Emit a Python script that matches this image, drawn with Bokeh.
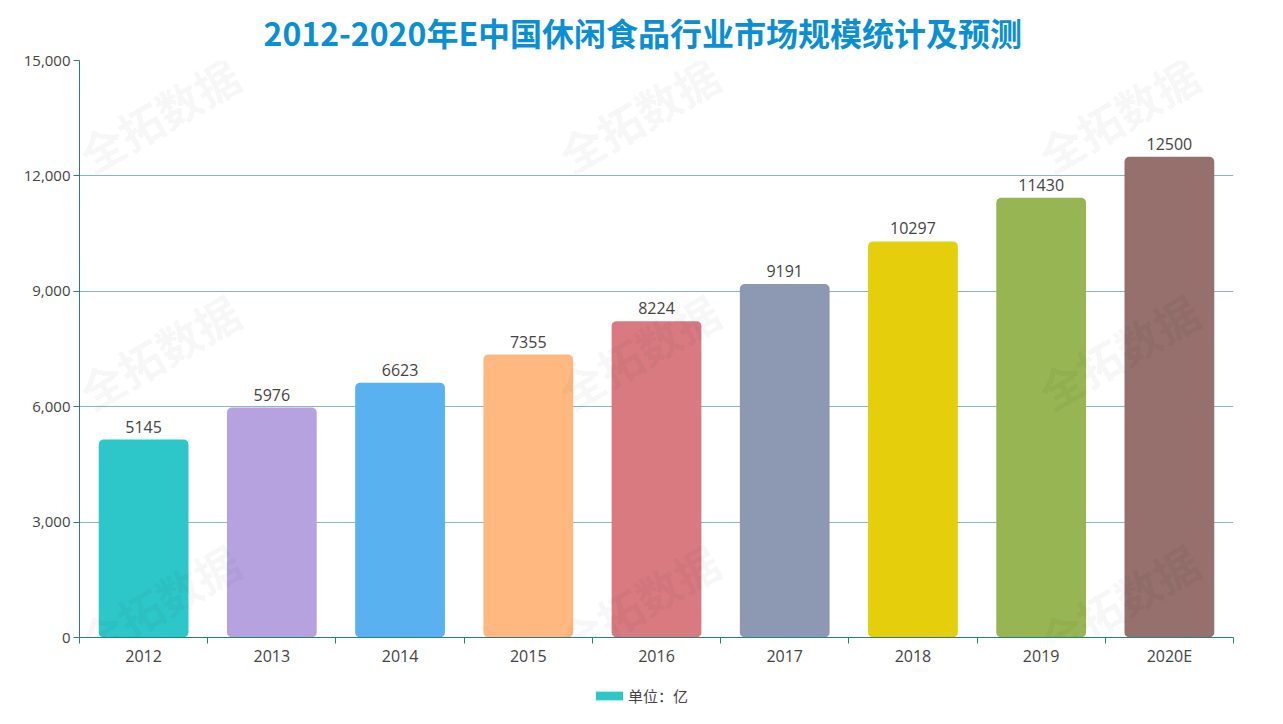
from bokeh.plotting import figure
from bokeh.layouts import column
from bokeh.models import (ColumnDataSource, Range1d, FixedTicker, NumeralTickFormatter,
                          LabelSet, Label, Legend, LegendItem)
from bokeh.core.properties import value
from bokeh.embed import file_html
from bokeh.resources import INLINE

# ---- data ----
years = ["2012", "2013", "2014", "2015", "2016", "2017", "2018", "2019", "2020E"]
market_size = [5145, 5976, 6623, 7355, 8224, 9191, 10297, 11430, 12500]
bar_colors = ["#2ec7c9", "#b6a2de", "#5ab1ef", "#ffb980", "#d87a80",
              "#8d98b3", "#e5cf0d", "#97b552", "#95706d"]
y_ticks = [0, 3000, 6000, 9000, 12000, 15000]
title_text = "2012-2020年E中国休闲食品行业市场规模统计及预测"
legend_text = "单位：亿"
watermark = "全拓数据"

x_pos = [i + 0.5 for i in range(len(years))]
source = ColumnDataSource(dict(x=x_pos, y=market_size, color=bar_colors,
                               label=[str(v) for v in market_size]))

p = figure(width=1267, height=672, output_backend="svg", toolbar_location=None,
           x_range=Range1d(0, len(years)), y_range=Range1d(0, 15000),
           min_border_left=79, min_border_right=34, min_border_top=60, min_border_bottom=35)
p.outline_line_color = None
p.background_fill_color = "white"
p.border_fill_color = "white"

# title
p.title.text = title_text
p.title.align = "left"
p.title.offset = 184
p.title.standoff = 12
p.title.text_font = "Noto Sans CJK SC"
p.title.text_font_style = "bold"
p.title.text_font_size = "32px"
p.title.text_color = "#0a8fd3"

# watermarks (decoration)
for wx in [0.62, 4.36, 8.1]:
    for wy in [13600, 7450, 950]:
        p.add_layout(Label(x=wx, y=wy, text=watermark, angle=30, angle_units="deg",
                           text_align="center", text_baseline="middle",
                           text_font="Noto Sans CJK SC", text_font_style="bold",
                           text_font_size="44px", text_color="#000000", text_alpha=0.055))

r = p.vbar(x="x", top="y", width=0.7, bottom=0, source=source, fill_color="color",
           line_color=None, border_radius=5)

labels = LabelSet(x="x", y="y", text="label", source=source, y_offset=7,
                  text_align="center", text_baseline="bottom",
                  text_font=value("Open Sans"), text_font_size=value("16px"),
                  text_color=value("#444444"))
p.add_layout(labels)

# axes
axis_color = "#2a7c86"
p.yaxis.ticker = FixedTicker(ticks=y_ticks)
p.yaxis.formatter = NumeralTickFormatter(format="0,0")
p.yaxis.axis_line_color = axis_color
p.yaxis.major_tick_line_color = axis_color
p.yaxis.major_tick_out = 6
p.yaxis.major_tick_in = 0
p.yaxis.minor_tick_line_color = None
p.yaxis.major_label_standoff = 3
p.yaxis.major_label_text_font = "Open Sans"
p.yaxis.major_label_text_font_size = "15px"
p.yaxis.major_label_text_color = "#444444"

p.xaxis.ticker = FixedTicker(ticks=x_pos, minor_ticks=list(range(len(years) + 1)))
p.xaxis.major_label_overrides = {x: y for x, y in zip(x_pos, years)}
p.xaxis.axis_line_color = axis_color
p.xaxis.major_tick_line_color = None
p.xaxis.major_tick_out = 2
p.xaxis.major_tick_in = 0
p.xaxis.minor_tick_line_color = axis_color
p.xaxis.minor_tick_out = 6
p.xaxis.minor_tick_in = 0
p.xaxis.major_label_standoff = 1
p.xaxis.major_label_text_font = "Open Sans"
p.xaxis.major_label_text_font_size = "16px"
p.xaxis.major_label_text_color = "#444444"

p.xgrid.grid_line_color = None
p.ygrid.grid_line_color = "#86b8bd"
p.ygrid.grid_line_width = 1

# legend strip (its own small figure; its bar renderer is hidden, only the key is shown)
lg = figure(width=1267, height=44, output_backend="svg", toolbar_location=None,
            x_range=Range1d(-30, -20), y_range=Range1d(0, 1),
            x_axis_type=None, y_axis_type=None,
            min_border_left=0, min_border_right=0, min_border_top=0, min_border_bottom=0)
lg.outline_line_color = None
lg.xgrid.grid_line_color = None
lg.ygrid.grid_line_color = None
lr = lg.vbar(x="x", top="y", width=0.7, bottom=0, source=source, fill_color="color",
             line_color=None, border_radius=3)
lr.visible = False
legend = Legend(items=[LegendItem(label=legend_text, renderers=[lr], index=0)],
                orientation="horizontal", location=(513, 10),
                glyph_width=34, glyph_height=11, label_text_font="Noto Sans CJK SC",
                label_text_font_size="15px", label_text_color="#444444",
                border_line_color=None, background_fill_alpha=0,
                inactive_fill_alpha=0,
                margin=0, padding=4, label_standoff=2)
lg.add_layout(legend, "center")

layout = column(p, lg, spacing=0)
open("out.html", "w").write(file_html(layout, INLINE))
